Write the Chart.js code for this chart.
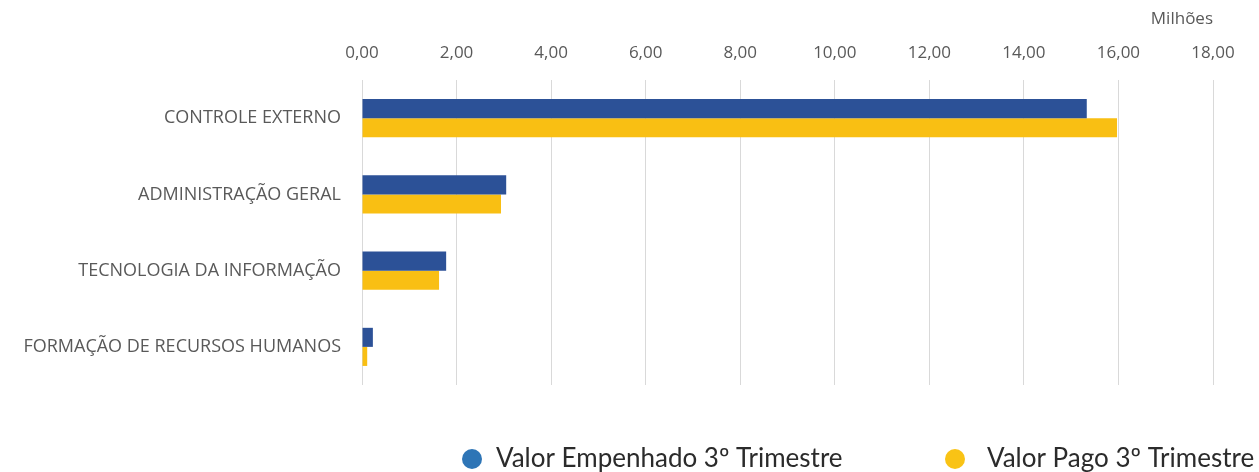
<!DOCTYPE html>
<html>
<head>
<meta charset="utf-8">
<title>Despesas por programa - 3º Trimestre</title>
<script src="https://cdn.jsdelivr.net/npm/chart.js@4/dist/chart.umd.min.js"></script>
<style>
    html, body { margin: 0; padding: 0; background: #fff; overflow: hidden; }
    #box { position: relative; width: 1259px; height: 472px; }
</style>
</head>
<body>
<div id="box"><canvas id="chart" width="1259" height="472"></canvas></div>
<script>
// dados (em milhões)
var categorias = ['CONTROLE EXTERNO', 'ADMINISTRAÇÃO GERAL', 'TECNOLOGIA DA INFORMAÇÃO', 'FORMAÇÃO DE RECURSOS HUMANOS'];
var empenhado = [15.33, 3.05, 1.78, 0.23];
var pago = [15.97, 2.94, 1.63, 0.11];
var series = ['Valor Empenhado 3º Trimestre', 'Valor Pago 3º Trimestre'];
var eixoMin = 0, eixoMax = 18, eixoPasso = 2;

var corBarras = ['#2C5197', '#F9BF13'];
var corLegenda = ['#2E75B6', '#F9C315'];

function fmt(v) {
    return v.toFixed(2).replace('.', ',');
}

// legenda desenhada na mão: a do chart.js nao deixa o espaço grande entre os itens
var legendaBaixo = {
    id: 'legendaBaixo',
    afterDraw: function(chart, args, opts) {
        var c = chart.ctx;
        var y = chart.height - opts.bottom;
        c.save();
        c.font = opts.font;
        c.textBaseline = 'middle';
        c.textAlign = 'left';
        chart.data.datasets.forEach(function(ds, i) {
            c.beginPath();
            c.arc(opts.bolaX[i], y, opts.raio, 0, Math.PI * 2);
            c.fillStyle = corLegenda[i];
            c.fill();
            c.fillStyle = opts.color;
            c.fillText(ds.label, opts.textoX[i], y);
        });
        c.restore();
    }
};

var ctx = document.getElementById('chart');

new Chart(ctx, {
    type: 'bar',
    data: {
        labels: categorias,
        datasets: [{
            label: series[0],
            data: empenhado,
            backgroundColor: corBarras[0],
            categoryPercentage: 0.5,
            barPercentage: 1
        }, {
            label: series[1],
            data: pago,
            backgroundColor: corBarras[1],
            categoryPercentage: 0.5,
            barPercentage: 1
        }]
    },
    plugins: [legendaBaixo],
    options: {
        indexAxis: 'y',
        responsive: false,
        animation: false,
        layout: { padding: { left: 0, right: 4, top: 0, bottom: 87 } },
        scales: {
            x: {
                position: 'top',
                min: eixoMin,
                max: eixoMax,
                grid: { color: '#d9d9d9', drawTicks: false },
                border: { display: false },
                ticks: {
                    stepSize: eixoPasso,
                    padding: 17,
                    color: '#595959',
                    font: { family: 'Open Sans', size: 17 },
                    callback: function(v) { return fmt(v); }
                },
                title: {
                    display: true,
                    text: 'Milhões',
                    align: 'end',
                    color: '#595959',
                    font: { family: 'Open Sans', size: 17 },
                    padding: { top: 9, bottom: 0 }
                },
                afterFit: function(scale) {
                    // prende a área do gráfico no topo e na direita
                    scale.height = 80;
                    scale.paddingRight = 46;
                }
            },
            y: {
                grid: { display: false },
                border: { display: false },
                ticks: {
                    padding: 13,
                    color: '#595959',
                    font: { family: 'Open Sans', size: 18 }
                },
                afterFit: function(scale) {
                    scale.width = 362;
                }
            }
        },
        plugins: {
            tooltip: { enabled: false },
            legend: { display: false },
            legendaBaixo: {
                font: '26px Lato',
                color: '#2b2b2b',
                bottom: 13,
                raio: 10,
                bolaX: [472, 955],
                textoX: [496, 987]
            }
        }
    }
});
</script>
</body>
</html>
